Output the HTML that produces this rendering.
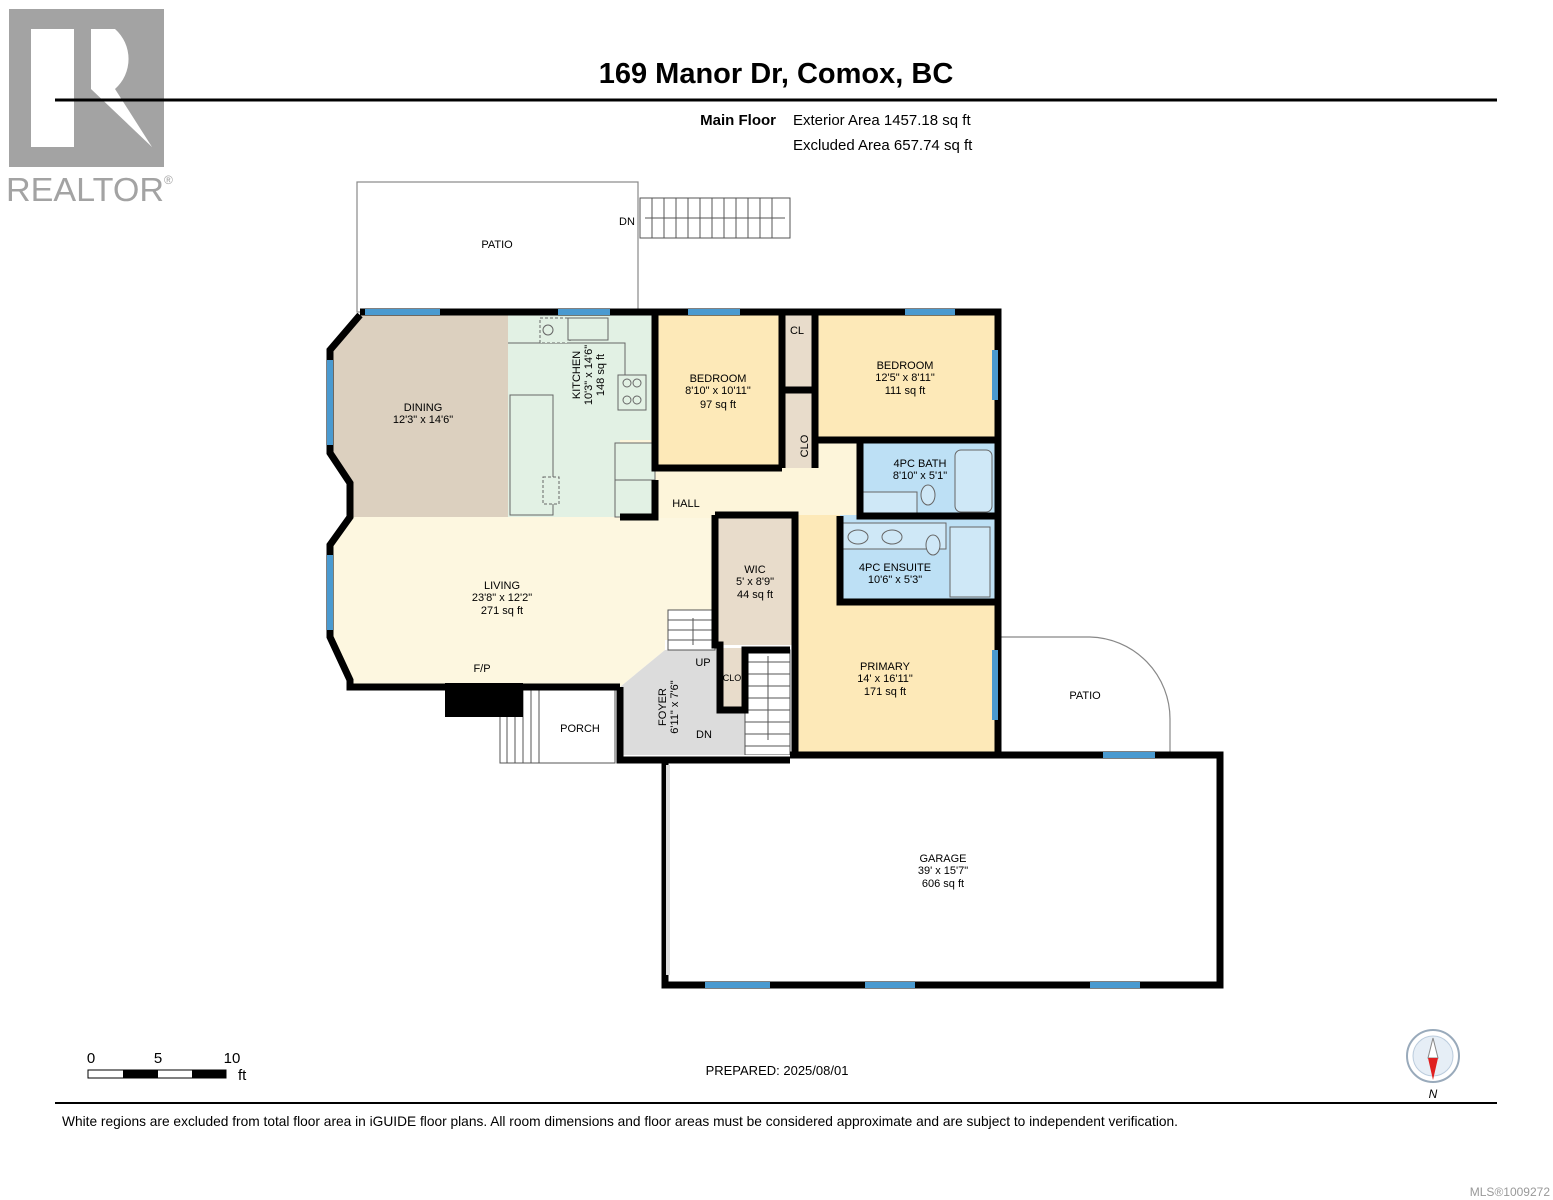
<!DOCTYPE html>
<html><head><meta charset="utf-8"><style>
body{margin:0;background:#fff;}
svg{display:block;font-family:"Liberation Sans",Arial,sans-serif;}
</style></head><body>
<svg width="1553" height="1200" viewBox="0 0 1553 1200">
<rect x="9" y="9" width="155" height="158" fill="#a3a3a3"/>
<rect x="31" y="29" width="43" height="118" fill="#fff"/>
<path d="M91 29 H115 A40 40 0 0 1 115 89 L152 147 H91 Z" fill="#fff"/>
<path d="M91 89 L152 147 H91 Z" fill="#a3a3a3"/>
<text x="6" y="201" font-size="33" fill="#a3a3a3" textLength="158" lengthAdjust="spacingAndGlyphs">REALTOR</text>
<text x="164" y="184" font-size="12" fill="#a3a3a3">®</text>
<text x="776" y="83" font-size="29" font-weight="bold" text-anchor="middle">169 Manor Dr, Comox, BC</text>
<line x1="55" y1="100" x2="1497" y2="100" stroke="#000" stroke-width="3"/>
<text x="776" y="125" font-size="15" font-weight="bold" text-anchor="end">Main Floor</text>
<text x="793" y="125" font-size="15">Exterior Area 1457.18 sq ft</text>
<text x="793" y="150" font-size="15">Excluded Area 657.74 sq ft</text>
<rect x="357" y="182" width="281" height="130" fill="none" stroke="#888" stroke-width="1.2"/>
<text x="497" y="248" font-size="11" text-anchor="middle">PATIO</text>
<text x="619" y="225" font-size="11">DN</text>
<g stroke="#555" stroke-width="1" fill="none">
<rect x="640" y="198" width="150" height="40"/>
<path d="M652 198V238M664 198V238M676 198V238M688 198V238M700 198V238M712 198V238M724 198V238M736 198V238M748 198V238M760 198V238M772 198V238M645 218H785"/>
</g>
<polygon points="360,312 508,312 508,517 350,517 350,483 330,453 330,350 360,315" fill="#dcd0bf"/>
<rect x="508" y="312" width="147" height="205" fill="#e2f1e4"/>
<polygon points="350,517 715,517 715,640 665,640 665,650 620,687 350,687 330,637 330,545" fill="#fdf7e0"/>
<rect x="620" y="440" width="240" height="78" fill="#fdf5da"/>
<rect x="655" y="312" width="127" height="156" fill="#fde9b8"/>
<rect x="782" y="312" width="33" height="156" fill="#e8dccb"/>
<rect x="815" y="312" width="180" height="128" fill="#fde9b8"/>
<rect x="860" y="440" width="135" height="76" fill="#bde0f5"/>
<rect x="840" y="515" width="155" height="87" fill="#bde0f5"/>
<rect x="715" y="515" width="80" height="130" fill="#e8dccb"/>
<polygon points="795,515 840,515 840,602 995,602 995,755 795,755" fill="#fde9b8"/>
<polygon points="665,650 720,645 720,710 745,710 745,755 620,755 620,687" fill="#dcdcdc"/>
<rect x="720" y="648" width="25" height="62" fill="#e8dccb"/>
<g stroke="#666" stroke-width="1" fill="#e2f1e4">
<path d="M508 343 H625 V395 M625 443 H655"/>
<rect x="618" y="375" width="28" height="35"/>
<rect x="615" y="443" width="40" height="37"/>
<rect x="615" y="480" width="40" height="37"/>
<rect x="510" y="395" width="43" height="120"/>
<rect x="540" y="318" width="30" height="25" stroke-dasharray="3,2"/>
<rect x="568" y="318" width="40" height="22"/>
<rect x="543" y="477" width="16" height="27" stroke-dasharray="3,2"/>
</g>
<g fill="none" stroke="#666"><circle cx="627" cy="383" r="4"/><circle cx="637" cy="383" r="4"/><circle cx="627" cy="400" r="4"/><circle cx="637" cy="400" r="4"/><circle cx="548" cy="330" r="5"/></g>
<g stroke="#666" fill="#cfe8f7" stroke-width="1">
<rect x="955" y="450" width="37" height="62" rx="6"/>
<rect x="862" y="492" width="55" height="24"/>
<ellipse cx="928" cy="495" rx="7" ry="10"/>
<rect x="843" y="523" width="103" height="26"/>
<ellipse cx="858" cy="537" rx="10" ry="7"/><ellipse cx="892" cy="537" rx="10" ry="7"/>
<ellipse cx="933" cy="545" rx="7" ry="10"/>
<rect x="950" y="527" width="40" height="70"/>
</g>
<g stroke="#555" stroke-width="1" fill="#fff">
<rect x="668" y="610" width="47" height="40"/>
<path d="M668 620H715M668 630H715M668 640H715M693 645V618"/>
<rect x="745" y="650" width="45" height="105"/>
<path d="M745 662H790M745 674H790M745 686H790M745 698H790M745 710H790M745 722H790M745 734H790M745 746H790M768 740V656"/>
<rect x="500" y="690" width="115" height="73"/>
<path d="M507 690V763M515 690V763M523 690V763M531 690V763M539 690V763"/>
<rect x="748" y="755" width="42" height="25"/>
</g>
<rect x="665" y="755" width="555" height="230" fill="#fff"/>
<path d="M995 637 H1090 A82 82 0 0 1 1170 719 V755" fill="none" stroke="#888" stroke-width="1.2"/>
<g stroke="#000" stroke-width="7" fill="none" stroke-linejoin="miter">
<path d="M360 312 H998 V755"/>
<path d="M360 315 L330 350 V453 L350 483 V517 L330 545 V637 L350 680 V687 H620"/>
<path d="M620 687 V760 H665"/>
<path d="M665 760 H790 M790 755 H1220 V985 H665 V760"/>
<path d="M655 312 V468 H782 M815 440 V468 M860 440 V516 M782 312 V468 M815 312 V440 H995 M782 390 H815 M860 440 V516 H995 M840 516 V602 H995 M715 515 H795 V755 M715 515 V645 H720 V710 H745 V650 H790 M620 517 H655 V480"/>
</g>
<g stroke="#4a9ad0" stroke-width="6">
<path d="M365 312H440M558 312H610M688 312H740M905 312H955M995 350V400M995 650V720M330 360V445M330 555V630M1103 755H1155M705 985H770M865 985H915M1090 985H1140"/>
</g>
<rect x="445" y="683" width="78" height="34" fill="#000"/>
<rect x="666" y="765" width="4" height="210" fill="#ddd"/>
<g font-size="11" text-anchor="middle">
<text x="423" y="411">DINING</text><text x="423" y="423">12'3" x 14'6"</text>
<text transform="translate(580,375) rotate(-90)">KITCHEN</text>
<text transform="translate(592,375) rotate(-90)">10'3" x 14'6"</text>
<text transform="translate(604,375) rotate(-90)">148 sq ft</text>
<text x="718" y="382">BEDROOM</text><text x="718" y="394">8'10" x 10'11"</text><text x="718" y="408">97 sq ft</text>
<text x="905" y="369">BEDROOM</text><text x="905" y="381">12'5" x 8'11"</text><text x="905" y="394">111 sq ft</text>
<text x="797" y="334">CL</text>
<text transform="translate(808,446) rotate(-90)">CLO</text>
<text x="686" y="507">HALL</text>
<text x="920" y="467">4PC BATH</text><text x="920" y="479">8'10" x 5'1"</text>
<text x="895" y="571">4PC ENSUITE</text><text x="895" y="583">10'6" x 5'3"</text>
<text x="755" y="573">WIC</text><text x="755" y="585">5' x 8'9"</text><text x="755" y="598">44 sq ft</text>
<text x="502" y="589">LIVING</text><text x="502" y="601">23'8" x 12'2"</text><text x="502" y="614">271 sq ft</text>
<text x="482" y="672">F/P</text>
<text x="580" y="732">PORCH</text>
<text transform="translate(666,707) rotate(-90)">FOYER</text>
<text transform="translate(678,707) rotate(-90)">6'11" x 7'6"</text>
<text x="703" y="666">UP</text><text x="704" y="738">DN</text>
<text x="732" y="681" font-size="9">CLO</text>
<text x="885" y="670">PRIMARY</text><text x="885" y="682">14' x 16'11"</text><text x="885" y="695">171 sq ft</text>
<text x="1085" y="699">PATIO</text>
<text x="943" y="862">GARAGE</text><text x="943" y="874">39' x 15'7"</text><text x="943" y="887">606 sq ft</text>
</g>
<text x="91" y="1063" font-size="15" text-anchor="middle">0</text>
<text x="158" y="1063" font-size="15" text-anchor="middle">5</text>
<text x="232" y="1063" font-size="15" text-anchor="middle">10</text>
<text x="238" y="1080" font-size="15">ft</text>
<rect x="88" y="1070" width="138" height="8" fill="#fff" stroke="#000"/>
<rect x="123" y="1070" width="35" height="8" fill="#000"/>
<rect x="192" y="1070" width="34" height="8" fill="#000"/>
<text x="777" y="1075" font-size="13" text-anchor="middle">PREPARED: 2025/08/01</text>
<circle cx="1433" cy="1056" r="26" fill="#fff" stroke="#9ab" stroke-width="2"/>
<circle cx="1433" cy="1056" r="20" fill="#e6eef6" stroke="#bcd"/>
<polygon points="1433,1038 1428,1058 1438,1058" fill="#fff" stroke="#888"/>
<polygon points="1428,1058 1438,1058 1433,1080" fill="#e02020"/>
<text x="1433" y="1098" font-size="12" font-style="italic" text-anchor="middle">N</text>
<line x1="55" y1="1103" x2="1497" y2="1103" stroke="#000" stroke-width="2"/>
<text x="62" y="1126" font-size="13.7" textLength="1116" lengthAdjust="spacingAndGlyphs">White regions are excluded from total floor area in iGUIDE floor plans. All room dimensions and floor areas must be considered approximate and are subject to independent verification.</text>
<text x="1550" y="1196" font-size="12" fill="#999" text-anchor="end">MLS®1009272</text>
</svg>
</body></html>
